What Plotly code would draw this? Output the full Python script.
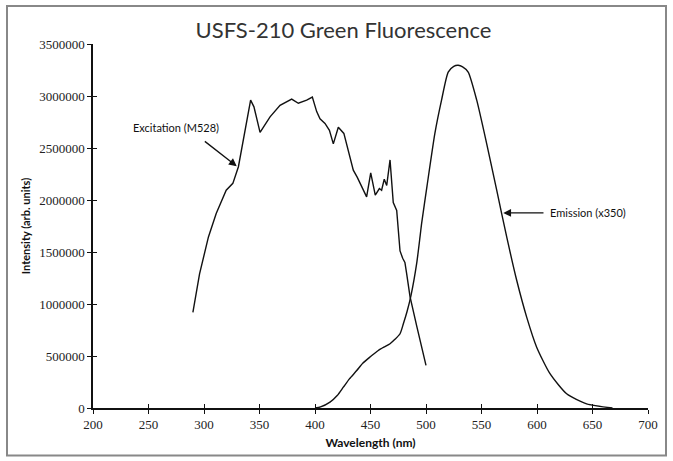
import plotly.graph_objects as go

# ---- data ----
exc_wl = [290, 296, 304, 311, 320, 326, 331, 335, 340, 342, 345, 350.5, 359.5, 368.5, 379, 385,
          392.5, 397.6, 401.5, 404.5, 409, 413, 416.5, 421, 426, 430, 434.5, 438, 442, 446.5,
          450.2, 454.3, 458, 460, 462.4, 464.6, 467.6, 470.5, 473.6, 476.6, 479, 481, 482.6,
          485.6, 491.6, 496, 500]
exc_val = [920000, 1290000, 1645000, 1870000, 2094000, 2160000, 2320000, 2540000, 2830000, 2960000,
           2896000, 2650000, 2800000, 2910000, 2970000, 2930000, 2960000, 2990000, 2850000, 2780000,
           2736000, 2670000, 2540000, 2700000, 2640000, 2480000, 2287000, 2220000, 2126000, 2030000,
           2260000, 2046000, 2110000, 2094000, 2200000, 2140000, 2385000, 1975000, 1900000, 1510000,
           1440000, 1400000, 1290000, 1070000, 790000, 585000, 410000]

em_wl = [400, 405, 413.5, 420, 425.5, 431, 437.6, 443, 449.5, 457, 462, 467.6, 472, 476.6, 479.6,
         483, 486.5, 491.6, 494.6, 496, 501, 508, 514, 520, 525, 529, 533, 538, 545.7, 554.7,
         563.7, 572.7, 581.7, 590.7, 599.7, 611.7, 626.7, 644.7, 668]
em_val = [0, 10000, 56000, 120000, 200000, 280000, 360000, 430000, 490000, 553000, 585000, 618000,
          660000, 714000, 810000, 930000, 1083000, 1390000, 1645000, 1770000, 2140000, 2640000,
          2960000, 3230000, 3285000, 3295000, 3280000, 3230000, 2960000, 2540000, 2094000, 1645000,
          1228000, 874000, 585000, 330000, 137000, 40000, 0]

x_ticks = [200, 250, 300, 350, 400, 450, 500, 550, 600, 650, 700]
y_ticks = [0, 500000, 1000000, 1500000, 2000000, 2500000, 3000000, 3500000]
y_tick_text = [str(v) for v in y_ticks]
x_tick_text = [str(v) for v in x_ticks]

title_text = "USFS-210 Green Fluorescence"
x_title = "Wavelength (nm)"
y_title = "Intensity (arb. units)"
exc_label = "Excitation (M528)"
em_label = "Emission (x350)"

# ---- figure ----
fig = go.Figure()
fig.add_trace(go.Scatter(x=exc_wl, y=exc_val, mode="lines",
                         line=dict(color="#111111", width=1.4), showlegend=False))
fig.add_trace(go.Scatter(x=em_wl, y=em_val, mode="lines",
                         line=dict(color="#111111", width=1.4, shape="spline", smoothing=0.6),
                         showlegend=False))
# dummy trace for overlay axes (inside ticks)
fig.add_trace(go.Scatter(x=[], y=[], xaxis="x2", yaxis="y2", showlegend=False))

tick_font = dict(family="Liberation Serif", size=13, color="#222222")

fig.update_layout(
    width=673, height=461,
    margin=dict(l=93, r=25, t=44, b=53),
    paper_bgcolor="white", plot_bgcolor="white",
    title=dict(text=title_text, x=343.5 / 673, xref="container", xanchor="center",
               y=1 - 30 / 461, yref="container", yanchor="middle",
               font=dict(family="Lato", size=22, color="#333333")),
    xaxis=dict(range=[200, 700], tickmode="array", tickvals=x_ticks, ticktext=x_tick_text,
               showgrid=False, zeroline=False, showline=True, linecolor="#111111", linewidth=1.5,
               ticks="outside", ticklen=4, tickwidth=1.2, tickcolor="#111111",
               tickfont=tick_font,
               title=dict(text="<b>" + x_title + "</b>",
                          font=dict(family="Lato", size=12, color="#111111"), standoff=7)),
    yaxis=dict(range=[0, 3500000], tickmode="array", tickvals=y_ticks, ticktext=y_tick_text,
               showgrid=False, zeroline=False, showline=True, linecolor="#111111", linewidth=1.5,
               ticks="outside", ticklen=4, tickwidth=1.2, tickcolor="#111111",
               tickfont=tick_font,
               title=dict(text="<b>" + y_title + "</b>",
                          font=dict(family="Lato", size=11, color="#111111"), standoff=6)),
    xaxis2=dict(range=[200, 700], overlaying="x", anchor="y", tickmode="array", tickvals=x_ticks,
                showticklabels=False, showgrid=False, zeroline=False, showline=False,
                ticks="inside", ticklen=4, tickwidth=1.2, tickcolor="#111111", side="bottom"),
    yaxis2=dict(range=[0, 3500000], overlaying="y", anchor="x", tickmode="array", tickvals=y_ticks,
                showticklabels=False, showgrid=False, zeroline=False, showline=False,
                ticks="inside", ticklen=4, tickwidth=1.2, tickcolor="#111111", side="left"),
    showlegend=False,
)

ann_font = dict(family="Lato", size=11, color="#111111")
# Excitation label and arrow
fig.add_annotation(x=274.8, y=2694000, xref="x", yref="y", text=exc_label, showarrow=False,
                   font=ann_font, xanchor="center", yanchor="middle")
fig.add_annotation(x=329.5, y=2325000, xref="x", yref="y", ax=299.4, ay=2575000,
                   axref="x", ayref="y", text="", showarrow=True,
                   arrowhead=2, arrowsize=1.2, arrowwidth=1.3, arrowcolor="#111111")
# Emission label and arrow
fig.add_annotation(x=610, y=1876000, xref="x", yref="y", text=em_label, showarrow=False,
                   font=ann_font, xanchor="left", yanchor="middle")
fig.add_annotation(x=569.6, y=1876000, xref="x", yref="y", ax=607.2, ay=1876000,
                   axref="x", ayref="y", text="", showarrow=True,
                   arrowhead=2, arrowsize=1.2, arrowwidth=1.3, arrowcolor="#111111")

# outer frame
fig.add_shape(type="rect", xref="paper", yref="paper",
              x0=(7 - 93) / 555, x1=(666 - 93) / 555,
              y0=(407.5 - 455) / 363.5, y1=(407.5 - 6) / 363.5,
              line=dict(color="#888888", width=2), fillcolor="rgba(0,0,0,0)", layer="below")

fig.write_html("out.html", config={"displayModeBar": False},
               post_script="document.body.style.margin='0';")
